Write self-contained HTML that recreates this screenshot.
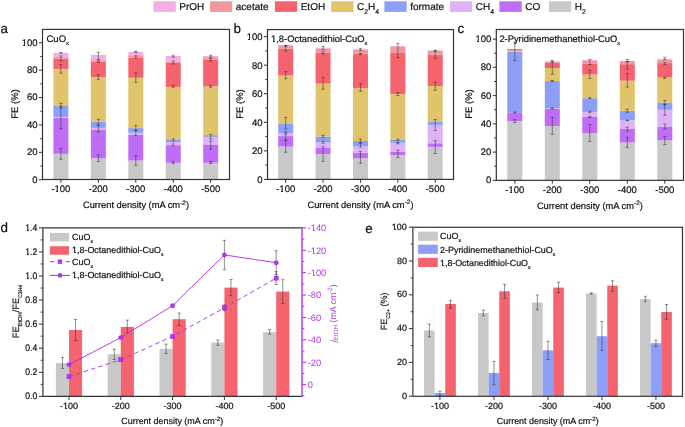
<!DOCTYPE html><html><head><meta charset="utf-8"><style>html,body{margin:0;padding:0;background:#fff;overflow:hidden}svg{display:block;will-change:transform;text-rendering:geometricPrecision}</style></head><body><svg width="685" height="427" viewBox="0 0 685 427" font-family='"Liberation Sans", sans-serif'>
<rect width="685" height="427" fill="#fff"/>
<rect x="153.50" y="1.30" width="22.30" height="10.60" fill="#f4ade2"/>
<text x="179.30" y="10.30" font-size="10" text-anchor="start" fill="#111" stroke="#111" stroke-width="0.2" >PrOH</text>
<rect x="210.00" y="1.30" width="22.30" height="10.60" fill="#f1979f"/>
<text x="235.80" y="10.30" font-size="10" text-anchor="start" fill="#111" stroke="#111" stroke-width="0.2" >acetate</text>
<rect x="274.90" y="1.30" width="22.30" height="10.60" fill="#f4636e"/>
<text x="300.70" y="10.30" font-size="10" text-anchor="start" fill="#111" stroke="#111" stroke-width="0.2" >EtOH</text>
<rect x="331.10" y="1.30" width="22.30" height="10.60" fill="#e0c46c"/>
<text x="356.90" y="10.30" font-size="10" text-anchor="start" fill="#111" stroke="#111" stroke-width="0.2" >C<tspan font-size="6.8" dy="3.2">2</tspan><tspan dy="-3.2">H</tspan><tspan font-size="6.8" dy="3.2">4</tspan></text>
<rect x="384.40" y="1.30" width="22.30" height="10.60" fill="#8c9ef7"/>
<text x="410.20" y="10.30" font-size="10" text-anchor="start" fill="#111" stroke="#111" stroke-width="0.2" >formate</text>
<rect x="450.00" y="1.30" width="22.30" height="10.60" fill="#ddb2f6"/>
<text x="475.80" y="10.30" font-size="10" text-anchor="start" fill="#111" stroke="#111" stroke-width="0.2" >CH<tspan font-size="6.8" dy="3.2">4</tspan></text>
<rect x="499.40" y="1.30" width="22.30" height="10.60" fill="#bf6cf7"/>
<text x="525.20" y="10.30" font-size="10" text-anchor="start" fill="#111" stroke="#111" stroke-width="0.2" >CO</text>
<rect x="549.00" y="1.30" width="22.30" height="10.60" fill="#c8c8c8"/>
<text x="574.80" y="10.30" font-size="10" text-anchor="start" fill="#111" stroke="#111" stroke-width="0.2" >H<tspan font-size="6.8" dy="3.2">2</tspan></text>
<rect x="53.40" y="153.80" width="15.00" height="25.70" fill="#c8c8c8"/>
<rect x="53.40" y="117.70" width="15.00" height="36.10" fill="#bf6cf7"/>
<rect x="53.40" y="116.90" width="15.00" height="0.80" fill="#ddb2f6"/>
<rect x="53.40" y="106.00" width="15.00" height="10.90" fill="#8c9ef7"/>
<rect x="53.40" y="68.90" width="15.00" height="37.10" fill="#e0c46c"/>
<rect x="53.40" y="58.70" width="15.00" height="10.20" fill="#f4636e"/>
<rect x="53.40" y="56.90" width="15.00" height="1.80" fill="#f1979f"/>
<rect x="53.40" y="52.90" width="15.00" height="4.00" fill="#f4ade2"/>
<rect x="90.85" y="158.20" width="15.00" height="21.30" fill="#c8c8c8"/>
<rect x="90.85" y="129.50" width="15.00" height="28.70" fill="#bf6cf7"/>
<rect x="90.85" y="127.90" width="15.00" height="1.60" fill="#ddb2f6"/>
<rect x="90.85" y="121.80" width="15.00" height="6.10" fill="#8c9ef7"/>
<rect x="90.85" y="77.00" width="15.00" height="44.80" fill="#e0c46c"/>
<rect x="90.85" y="61.40" width="15.00" height="15.60" fill="#f4636e"/>
<rect x="90.85" y="60.20" width="15.00" height="1.20" fill="#f1979f"/>
<rect x="90.85" y="54.90" width="15.00" height="5.30" fill="#f4ade2"/>
<rect x="128.30" y="160.50" width="15.00" height="19.00" fill="#c8c8c8"/>
<rect x="128.30" y="134.70" width="15.00" height="25.80" fill="#bf6cf7"/>
<rect x="128.30" y="132.80" width="15.00" height="1.90" fill="#ddb2f6"/>
<rect x="128.30" y="128.10" width="15.00" height="4.70" fill="#8c9ef7"/>
<rect x="128.30" y="77.70" width="15.00" height="50.40" fill="#e0c46c"/>
<rect x="128.30" y="57.50" width="15.00" height="20.20" fill="#f4636e"/>
<rect x="128.30" y="56.00" width="15.00" height="1.50" fill="#f1979f"/>
<rect x="128.30" y="51.90" width="15.00" height="4.10" fill="#f4ade2"/>
<rect x="165.75" y="162.80" width="15.00" height="16.70" fill="#c8c8c8"/>
<rect x="165.75" y="145.20" width="15.00" height="17.60" fill="#bf6cf7"/>
<rect x="165.75" y="142.00" width="15.00" height="3.20" fill="#ddb2f6"/>
<rect x="165.75" y="139.30" width="15.00" height="2.70" fill="#8c9ef7"/>
<rect x="165.75" y="86.90" width="15.00" height="52.40" fill="#e0c46c"/>
<rect x="165.75" y="63.00" width="15.00" height="23.90" fill="#f4636e"/>
<rect x="165.75" y="61.40" width="15.00" height="1.60" fill="#f1979f"/>
<rect x="165.75" y="56.00" width="15.00" height="5.40" fill="#f4ade2"/>
<rect x="203.20" y="162.80" width="15.00" height="16.70" fill="#c8c8c8"/>
<rect x="203.20" y="145.00" width="15.00" height="17.80" fill="#bf6cf7"/>
<rect x="203.20" y="136.90" width="15.00" height="8.10" fill="#ddb2f6"/>
<rect x="203.20" y="135.10" width="15.00" height="1.80" fill="#8c9ef7"/>
<rect x="203.20" y="86.40" width="15.00" height="48.70" fill="#e0c46c"/>
<rect x="203.20" y="59.90" width="15.00" height="26.50" fill="#f4636e"/>
<rect x="203.20" y="57.20" width="15.00" height="2.70" fill="#f1979f"/>
<rect x="203.20" y="56.00" width="15.00" height="1.20" fill="#f4ade2"/>
<line x1="60.90" y1="52.30" x2="60.90" y2="53.20" stroke="#333" stroke-width="0.55" />
<line x1="59.30" y1="52.30" x2="62.50" y2="52.30" stroke="#333" stroke-width="0.55" />
<line x1="59.30" y1="53.20" x2="62.50" y2="53.20" stroke="#333" stroke-width="0.55" />
<line x1="60.90" y1="56.00" x2="60.90" y2="61.00" stroke="#333" stroke-width="0.55" />
<line x1="59.30" y1="56.00" x2="62.50" y2="56.00" stroke="#333" stroke-width="0.55" />
<line x1="59.30" y1="61.00" x2="62.50" y2="61.00" stroke="#333" stroke-width="0.55" />
<line x1="60.90" y1="64.50" x2="60.90" y2="73.20" stroke="#333" stroke-width="0.55" />
<line x1="59.30" y1="64.50" x2="62.50" y2="64.50" stroke="#333" stroke-width="0.55" />
<line x1="59.30" y1="73.20" x2="62.50" y2="73.20" stroke="#333" stroke-width="0.55" />
<line x1="60.90" y1="103.30" x2="60.90" y2="108.20" stroke="#333" stroke-width="0.55" />
<line x1="59.30" y1="103.30" x2="62.50" y2="103.30" stroke="#333" stroke-width="0.55" />
<line x1="59.30" y1="108.20" x2="62.50" y2="108.20" stroke="#333" stroke-width="0.55" />
<line x1="60.90" y1="106.20" x2="60.90" y2="128.70" stroke="#333" stroke-width="0.55" />
<line x1="59.30" y1="106.20" x2="62.50" y2="106.20" stroke="#333" stroke-width="0.55" />
<line x1="59.30" y1="128.70" x2="62.50" y2="128.70" stroke="#333" stroke-width="0.55" />
<line x1="60.90" y1="148.40" x2="60.90" y2="159.30" stroke="#333" stroke-width="0.55" />
<line x1="59.30" y1="148.40" x2="62.50" y2="148.40" stroke="#333" stroke-width="0.55" />
<line x1="59.30" y1="159.30" x2="62.50" y2="159.30" stroke="#333" stroke-width="0.55" />
<line x1="98.35" y1="52.30" x2="98.35" y2="59.50" stroke="#333" stroke-width="0.55" />
<line x1="96.75" y1="52.30" x2="99.95" y2="52.30" stroke="#333" stroke-width="0.55" />
<line x1="96.75" y1="59.50" x2="99.95" y2="59.50" stroke="#333" stroke-width="0.55" />
<line x1="98.35" y1="60.80" x2="98.35" y2="62.30" stroke="#333" stroke-width="0.55" />
<line x1="96.75" y1="60.80" x2="99.95" y2="60.80" stroke="#333" stroke-width="0.55" />
<line x1="96.75" y1="62.30" x2="99.95" y2="62.30" stroke="#333" stroke-width="0.55" />
<line x1="98.35" y1="74.70" x2="98.35" y2="79.30" stroke="#333" stroke-width="0.55" />
<line x1="96.75" y1="74.70" x2="99.95" y2="74.70" stroke="#333" stroke-width="0.55" />
<line x1="96.75" y1="79.30" x2="99.95" y2="79.30" stroke="#333" stroke-width="0.55" />
<line x1="98.35" y1="119.30" x2="98.35" y2="124.30" stroke="#333" stroke-width="0.55" />
<line x1="96.75" y1="119.30" x2="99.95" y2="119.30" stroke="#333" stroke-width="0.55" />
<line x1="96.75" y1="124.30" x2="99.95" y2="124.30" stroke="#333" stroke-width="0.55" />
<line x1="98.35" y1="125.50" x2="98.35" y2="132.00" stroke="#333" stroke-width="0.55" />
<line x1="96.75" y1="125.50" x2="99.95" y2="125.50" stroke="#333" stroke-width="0.55" />
<line x1="96.75" y1="132.00" x2="99.95" y2="132.00" stroke="#333" stroke-width="0.55" />
<line x1="98.35" y1="154.90" x2="98.35" y2="161.50" stroke="#333" stroke-width="0.55" />
<line x1="96.75" y1="154.90" x2="99.95" y2="154.90" stroke="#333" stroke-width="0.55" />
<line x1="96.75" y1="161.50" x2="99.95" y2="161.50" stroke="#333" stroke-width="0.55" />
<line x1="135.80" y1="51.10" x2="135.80" y2="52.50" stroke="#333" stroke-width="0.55" />
<line x1="134.20" y1="51.10" x2="137.40" y2="51.10" stroke="#333" stroke-width="0.55" />
<line x1="134.20" y1="52.50" x2="137.40" y2="52.50" stroke="#333" stroke-width="0.55" />
<line x1="135.80" y1="55.70" x2="135.80" y2="57.90" stroke="#333" stroke-width="0.55" />
<line x1="134.20" y1="55.70" x2="137.40" y2="55.70" stroke="#333" stroke-width="0.55" />
<line x1="134.20" y1="57.90" x2="137.40" y2="57.90" stroke="#333" stroke-width="0.55" />
<line x1="135.80" y1="72.70" x2="135.80" y2="82.30" stroke="#333" stroke-width="0.55" />
<line x1="134.20" y1="72.70" x2="137.40" y2="72.70" stroke="#333" stroke-width="0.55" />
<line x1="134.20" y1="82.30" x2="137.40" y2="82.30" stroke="#333" stroke-width="0.55" />
<line x1="135.80" y1="125.50" x2="135.80" y2="130.30" stroke="#333" stroke-width="0.55" />
<line x1="134.20" y1="125.50" x2="137.40" y2="125.50" stroke="#333" stroke-width="0.55" />
<line x1="134.20" y1="130.30" x2="137.40" y2="130.30" stroke="#333" stroke-width="0.55" />
<line x1="135.80" y1="130.50" x2="135.80" y2="135.40" stroke="#333" stroke-width="0.55" />
<line x1="134.20" y1="130.50" x2="137.40" y2="130.50" stroke="#333" stroke-width="0.55" />
<line x1="134.20" y1="135.40" x2="137.40" y2="135.40" stroke="#333" stroke-width="0.55" />
<line x1="135.80" y1="155.60" x2="135.80" y2="165.40" stroke="#333" stroke-width="0.55" />
<line x1="134.20" y1="155.60" x2="137.40" y2="155.60" stroke="#333" stroke-width="0.55" />
<line x1="134.20" y1="165.40" x2="137.40" y2="165.40" stroke="#333" stroke-width="0.55" />
<line x1="173.25" y1="55.70" x2="173.25" y2="57.20" stroke="#333" stroke-width="0.55" />
<line x1="171.65" y1="55.70" x2="174.85" y2="55.70" stroke="#333" stroke-width="0.55" />
<line x1="171.65" y1="57.20" x2="174.85" y2="57.20" stroke="#333" stroke-width="0.55" />
<line x1="173.25" y1="61.00" x2="173.25" y2="64.00" stroke="#333" stroke-width="0.55" />
<line x1="171.65" y1="61.00" x2="174.85" y2="61.00" stroke="#333" stroke-width="0.55" />
<line x1="171.65" y1="64.00" x2="174.85" y2="64.00" stroke="#333" stroke-width="0.55" />
<line x1="173.25" y1="85.40" x2="173.25" y2="87.30" stroke="#333" stroke-width="0.55" />
<line x1="171.65" y1="85.40" x2="174.85" y2="85.40" stroke="#333" stroke-width="0.55" />
<line x1="171.65" y1="87.30" x2="174.85" y2="87.30" stroke="#333" stroke-width="0.55" />
<line x1="173.25" y1="139.10" x2="173.25" y2="145.70" stroke="#333" stroke-width="0.55" />
<line x1="171.65" y1="139.10" x2="174.85" y2="139.10" stroke="#333" stroke-width="0.55" />
<line x1="171.65" y1="145.70" x2="174.85" y2="145.70" stroke="#333" stroke-width="0.55" />
<line x1="173.25" y1="161.70" x2="173.25" y2="163.60" stroke="#333" stroke-width="0.55" />
<line x1="171.65" y1="161.70" x2="174.85" y2="161.70" stroke="#333" stroke-width="0.55" />
<line x1="171.65" y1="163.60" x2="174.85" y2="163.60" stroke="#333" stroke-width="0.55" />
<line x1="210.70" y1="55.40" x2="210.70" y2="57.20" stroke="#333" stroke-width="0.55" />
<line x1="209.10" y1="55.40" x2="212.30" y2="55.40" stroke="#333" stroke-width="0.55" />
<line x1="209.10" y1="57.20" x2="212.30" y2="57.20" stroke="#333" stroke-width="0.55" />
<line x1="210.70" y1="58.40" x2="210.70" y2="61.00" stroke="#333" stroke-width="0.55" />
<line x1="209.10" y1="58.40" x2="212.30" y2="58.40" stroke="#333" stroke-width="0.55" />
<line x1="209.10" y1="61.00" x2="212.30" y2="61.00" stroke="#333" stroke-width="0.55" />
<line x1="210.70" y1="85.40" x2="210.70" y2="87.30" stroke="#333" stroke-width="0.55" />
<line x1="209.10" y1="85.40" x2="212.30" y2="85.40" stroke="#333" stroke-width="0.55" />
<line x1="209.10" y1="87.30" x2="212.30" y2="87.30" stroke="#333" stroke-width="0.55" />
<line x1="210.70" y1="134.30" x2="210.70" y2="139.10" stroke="#333" stroke-width="0.55" />
<line x1="209.10" y1="134.30" x2="212.30" y2="134.30" stroke="#333" stroke-width="0.55" />
<line x1="209.10" y1="139.10" x2="212.30" y2="139.10" stroke="#333" stroke-width="0.55" />
<line x1="210.70" y1="141.30" x2="210.70" y2="149.30" stroke="#333" stroke-width="0.55" />
<line x1="209.10" y1="141.30" x2="212.30" y2="141.30" stroke="#333" stroke-width="0.55" />
<line x1="209.10" y1="149.30" x2="212.30" y2="149.30" stroke="#333" stroke-width="0.55" />
<line x1="210.70" y1="161.40" x2="210.70" y2="163.50" stroke="#333" stroke-width="0.55" />
<line x1="209.10" y1="161.40" x2="212.30" y2="161.40" stroke="#333" stroke-width="0.55" />
<line x1="209.10" y1="163.50" x2="212.30" y2="163.50" stroke="#333" stroke-width="0.55" />
<rect x="42.50" y="29.40" width="187.00" height="150.10" fill="none" stroke="#333333" stroke-width="1.2"/>
<line x1="42.50" y1="179.75" x2="39.00" y2="179.75" stroke="#333333" stroke-width="1.0" />
<text x="37.50" y="182.65" font-size="9.5" text-anchor="end" fill="#111" stroke="#111" stroke-width="0.2" >0</text>
<line x1="42.50" y1="152.35" x2="39.00" y2="152.35" stroke="#333333" stroke-width="1.0" />
<text x="37.50" y="155.25" font-size="9.5" text-anchor="end" fill="#111" stroke="#111" stroke-width="0.2" >20</text>
<line x1="42.50" y1="124.95" x2="39.00" y2="124.95" stroke="#333333" stroke-width="1.0" />
<text x="37.50" y="127.85" font-size="9.5" text-anchor="end" fill="#111" stroke="#111" stroke-width="0.2" >40</text>
<line x1="42.50" y1="97.55" x2="39.00" y2="97.55" stroke="#333333" stroke-width="1.0" />
<text x="37.50" y="100.45" font-size="9.5" text-anchor="end" fill="#111" stroke="#111" stroke-width="0.2" >60</text>
<line x1="42.50" y1="70.15" x2="39.00" y2="70.15" stroke="#333333" stroke-width="1.0" />
<text x="37.50" y="73.05" font-size="9.5" text-anchor="end" fill="#111" stroke="#111" stroke-width="0.2" >80</text>
<line x1="42.50" y1="42.75" x2="39.00" y2="42.75" stroke="#333333" stroke-width="1.0" />
<text x="37.50" y="45.65" font-size="9.5" text-anchor="end" fill="#111" stroke="#111" stroke-width="0.2" >100</text>
<line x1="42.50" y1="166.05" x2="40.30" y2="166.05" stroke="#333333" stroke-width="1.0" />
<line x1="42.50" y1="138.65" x2="40.30" y2="138.65" stroke="#333333" stroke-width="1.0" />
<line x1="42.50" y1="111.25" x2="40.30" y2="111.25" stroke="#333333" stroke-width="1.0" />
<line x1="42.50" y1="83.85" x2="40.30" y2="83.85" stroke="#333333" stroke-width="1.0" />
<line x1="42.50" y1="56.45" x2="40.30" y2="56.45" stroke="#333333" stroke-width="1.0" />
<line x1="60.90" y1="179.50" x2="60.90" y2="182.80" stroke="#333333" stroke-width="1.0" />
<text x="60.90" y="192.10" font-size="9.5" text-anchor="middle" fill="#111" stroke="#111" stroke-width="0.2" >-100</text>
<line x1="98.35" y1="179.50" x2="98.35" y2="182.80" stroke="#333333" stroke-width="1.0" />
<text x="98.35" y="192.10" font-size="9.5" text-anchor="middle" fill="#111" stroke="#111" stroke-width="0.2" >-200</text>
<line x1="135.80" y1="179.50" x2="135.80" y2="182.80" stroke="#333333" stroke-width="1.0" />
<text x="135.80" y="192.10" font-size="9.5" text-anchor="middle" fill="#111" stroke="#111" stroke-width="0.2" >-300</text>
<line x1="173.25" y1="179.50" x2="173.25" y2="182.80" stroke="#333333" stroke-width="1.0" />
<text x="173.25" y="192.10" font-size="9.5" text-anchor="middle" fill="#111" stroke="#111" stroke-width="0.2" >-400</text>
<line x1="210.70" y1="179.50" x2="210.70" y2="182.80" stroke="#333333" stroke-width="1.0" />
<text x="210.70" y="192.10" font-size="9.5" text-anchor="middle" fill="#111" stroke="#111" stroke-width="0.2" >-500</text>
<text x="136.00" y="208.00" font-size="9.3" text-anchor="middle" fill="#111" stroke="#111" stroke-width="0.2" >Current density (mA cm<tspan font-size="6.5" dy="-3.5">-2</tspan><tspan dy="3.5">)</tspan></text>
<text x="18.30" y="104.00" font-size="9.5" text-anchor="middle" fill="#111" stroke="#111" stroke-width="0.2" transform="rotate(-90 18.30 104.00)">FE (%)</text>
<text x="46.50" y="42.00" font-size="9.5" text-anchor="start" fill="#111" stroke="#111" stroke-width="0.2" >CuO<tspan font-size="5.7" dy="2.9">x</tspan></text>
<text x="0.50" y="32.80" font-size="13.4" text-anchor="start" fill="#111" stroke="#111" stroke-width="0.2" >a</text>
<rect x="278.20" y="146.60" width="15.00" height="32.80" fill="#c8c8c8"/>
<rect x="278.20" y="136.10" width="15.00" height="10.50" fill="#bf6cf7"/>
<rect x="278.20" y="133.00" width="15.00" height="3.10" fill="#ddb2f6"/>
<rect x="278.20" y="123.40" width="15.00" height="9.60" fill="#8c9ef7"/>
<rect x="278.20" y="75.40" width="15.00" height="48.00" fill="#e0c46c"/>
<rect x="278.20" y="48.70" width="15.00" height="26.70" fill="#f4636e"/>
<rect x="278.20" y="45.20" width="15.00" height="3.50" fill="#f1979f"/>
<rect x="315.58" y="154.10" width="15.00" height="25.30" fill="#c8c8c8"/>
<rect x="315.58" y="148.00" width="15.00" height="6.10" fill="#bf6cf7"/>
<rect x="315.58" y="142.20" width="15.00" height="5.80" fill="#ddb2f6"/>
<rect x="315.58" y="136.50" width="15.00" height="5.70" fill="#8c9ef7"/>
<rect x="315.58" y="83.60" width="15.00" height="52.90" fill="#e0c46c"/>
<rect x="315.58" y="52.90" width="15.00" height="30.70" fill="#f4636e"/>
<rect x="315.58" y="48.40" width="15.00" height="4.50" fill="#f1979f"/>
<rect x="315.58" y="47.70" width="15.00" height="0.70" fill="#f4ade2"/>
<rect x="352.96" y="158.20" width="15.00" height="21.20" fill="#c8c8c8"/>
<rect x="352.96" y="152.80" width="15.00" height="5.40" fill="#bf6cf7"/>
<rect x="352.96" y="146.10" width="15.00" height="6.70" fill="#ddb2f6"/>
<rect x="352.96" y="141.00" width="15.00" height="5.10" fill="#8c9ef7"/>
<rect x="352.96" y="88.10" width="15.00" height="52.90" fill="#e0c46c"/>
<rect x="352.96" y="54.10" width="15.00" height="34.00" fill="#f4636e"/>
<rect x="352.96" y="49.80" width="15.00" height="4.30" fill="#f1979f"/>
<rect x="352.96" y="49.10" width="15.00" height="0.70" fill="#f4ade2"/>
<rect x="390.34" y="155.00" width="15.00" height="24.40" fill="#c8c8c8"/>
<rect x="390.34" y="151.90" width="15.00" height="3.10" fill="#bf6cf7"/>
<rect x="390.34" y="142.80" width="15.00" height="9.10" fill="#ddb2f6"/>
<rect x="390.34" y="139.90" width="15.00" height="2.90" fill="#8c9ef7"/>
<rect x="390.34" y="94.10" width="15.00" height="45.80" fill="#e0c46c"/>
<rect x="390.34" y="52.90" width="15.00" height="41.20" fill="#f4636e"/>
<rect x="390.34" y="46.30" width="15.00" height="6.60" fill="#f1979f"/>
<rect x="427.72" y="146.80" width="15.00" height="32.60" fill="#c8c8c8"/>
<rect x="427.72" y="143.30" width="15.00" height="3.50" fill="#bf6cf7"/>
<rect x="427.72" y="124.90" width="15.00" height="18.40" fill="#ddb2f6"/>
<rect x="427.72" y="122.00" width="15.00" height="2.90" fill="#8c9ef7"/>
<rect x="427.72" y="86.00" width="15.00" height="36.00" fill="#e0c46c"/>
<rect x="427.72" y="54.70" width="15.00" height="31.30" fill="#f4636e"/>
<rect x="427.72" y="50.50" width="15.00" height="4.20" fill="#f1979f"/>
<line x1="285.70" y1="45.20" x2="285.70" y2="46.00" stroke="#333" stroke-width="0.55" />
<line x1="284.10" y1="45.20" x2="287.30" y2="45.20" stroke="#333" stroke-width="0.55" />
<line x1="284.10" y1="46.00" x2="287.30" y2="46.00" stroke="#333" stroke-width="0.55" />
<line x1="285.70" y1="46.30" x2="285.70" y2="51.20" stroke="#333" stroke-width="0.55" />
<line x1="284.10" y1="46.30" x2="287.30" y2="46.30" stroke="#333" stroke-width="0.55" />
<line x1="284.10" y1="51.20" x2="287.30" y2="51.20" stroke="#333" stroke-width="0.55" />
<line x1="285.70" y1="71.60" x2="285.70" y2="78.70" stroke="#333" stroke-width="0.55" />
<line x1="284.10" y1="71.60" x2="287.30" y2="71.60" stroke="#333" stroke-width="0.55" />
<line x1="284.10" y1="78.70" x2="287.30" y2="78.70" stroke="#333" stroke-width="0.55" />
<line x1="285.70" y1="117.30" x2="285.70" y2="129.00" stroke="#333" stroke-width="0.55" />
<line x1="284.10" y1="117.30" x2="287.30" y2="117.30" stroke="#333" stroke-width="0.55" />
<line x1="284.10" y1="129.00" x2="287.30" y2="129.00" stroke="#333" stroke-width="0.55" />
<line x1="285.70" y1="131.90" x2="285.70" y2="133.10" stroke="#333" stroke-width="0.55" />
<line x1="284.10" y1="131.90" x2="287.30" y2="131.90" stroke="#333" stroke-width="0.55" />
<line x1="284.10" y1="133.10" x2="287.30" y2="133.10" stroke="#333" stroke-width="0.55" />
<line x1="285.70" y1="134.60" x2="285.70" y2="140.20" stroke="#333" stroke-width="0.55" />
<line x1="284.10" y1="134.60" x2="287.30" y2="134.60" stroke="#333" stroke-width="0.55" />
<line x1="284.10" y1="140.20" x2="287.30" y2="140.20" stroke="#333" stroke-width="0.55" />
<line x1="285.70" y1="140.20" x2="285.70" y2="152.20" stroke="#333" stroke-width="0.55" />
<line x1="284.10" y1="140.20" x2="287.30" y2="140.20" stroke="#333" stroke-width="0.55" />
<line x1="284.10" y1="152.20" x2="287.30" y2="152.20" stroke="#333" stroke-width="0.55" />
<line x1="323.08" y1="46.30" x2="323.08" y2="49.80" stroke="#333" stroke-width="0.55" />
<line x1="321.48" y1="46.30" x2="324.68" y2="46.30" stroke="#333" stroke-width="0.55" />
<line x1="321.48" y1="49.80" x2="324.68" y2="49.80" stroke="#333" stroke-width="0.55" />
<line x1="323.08" y1="52.00" x2="323.08" y2="54.00" stroke="#333" stroke-width="0.55" />
<line x1="321.48" y1="52.00" x2="324.68" y2="52.00" stroke="#333" stroke-width="0.55" />
<line x1="321.48" y1="54.00" x2="324.68" y2="54.00" stroke="#333" stroke-width="0.55" />
<line x1="323.08" y1="77.20" x2="323.08" y2="89.20" stroke="#333" stroke-width="0.55" />
<line x1="321.48" y1="77.20" x2="324.68" y2="77.20" stroke="#333" stroke-width="0.55" />
<line x1="321.48" y1="89.20" x2="324.68" y2="89.20" stroke="#333" stroke-width="0.55" />
<line x1="323.08" y1="135.30" x2="323.08" y2="137.50" stroke="#333" stroke-width="0.55" />
<line x1="321.48" y1="135.30" x2="324.68" y2="135.30" stroke="#333" stroke-width="0.55" />
<line x1="321.48" y1="137.50" x2="324.68" y2="137.50" stroke="#333" stroke-width="0.55" />
<line x1="323.08" y1="141.20" x2="323.08" y2="143.20" stroke="#333" stroke-width="0.55" />
<line x1="321.48" y1="141.20" x2="324.68" y2="141.20" stroke="#333" stroke-width="0.55" />
<line x1="321.48" y1="143.20" x2="324.68" y2="143.20" stroke="#333" stroke-width="0.55" />
<line x1="323.08" y1="146.80" x2="323.08" y2="161.30" stroke="#333" stroke-width="0.55" />
<line x1="321.48" y1="146.80" x2="324.68" y2="146.80" stroke="#333" stroke-width="0.55" />
<line x1="321.48" y1="161.30" x2="324.68" y2="161.30" stroke="#333" stroke-width="0.55" />
<line x1="360.46" y1="48.40" x2="360.46" y2="50.50" stroke="#333" stroke-width="0.55" />
<line x1="358.86" y1="48.40" x2="362.06" y2="48.40" stroke="#333" stroke-width="0.55" />
<line x1="358.86" y1="50.50" x2="362.06" y2="50.50" stroke="#333" stroke-width="0.55" />
<line x1="360.46" y1="53.50" x2="360.46" y2="54.50" stroke="#333" stroke-width="0.55" />
<line x1="358.86" y1="53.50" x2="362.06" y2="53.50" stroke="#333" stroke-width="0.55" />
<line x1="358.86" y1="54.50" x2="362.06" y2="54.50" stroke="#333" stroke-width="0.55" />
<line x1="360.46" y1="83.60" x2="360.46" y2="91.30" stroke="#333" stroke-width="0.55" />
<line x1="358.86" y1="83.60" x2="362.06" y2="83.60" stroke="#333" stroke-width="0.55" />
<line x1="358.86" y1="91.30" x2="362.06" y2="91.30" stroke="#333" stroke-width="0.55" />
<line x1="360.46" y1="139.20" x2="360.46" y2="142.60" stroke="#333" stroke-width="0.55" />
<line x1="358.86" y1="139.20" x2="362.06" y2="139.20" stroke="#333" stroke-width="0.55" />
<line x1="358.86" y1="142.60" x2="362.06" y2="142.60" stroke="#333" stroke-width="0.55" />
<line x1="360.46" y1="143.50" x2="360.46" y2="147.20" stroke="#333" stroke-width="0.55" />
<line x1="358.86" y1="143.50" x2="362.06" y2="143.50" stroke="#333" stroke-width="0.55" />
<line x1="358.86" y1="147.20" x2="362.06" y2="147.20" stroke="#333" stroke-width="0.55" />
<line x1="360.46" y1="151.60" x2="360.46" y2="163.30" stroke="#333" stroke-width="0.55" />
<line x1="358.86" y1="151.60" x2="362.06" y2="151.60" stroke="#333" stroke-width="0.55" />
<line x1="358.86" y1="163.30" x2="362.06" y2="163.30" stroke="#333" stroke-width="0.55" />
<line x1="397.84" y1="43.50" x2="397.84" y2="57.60" stroke="#333" stroke-width="0.55" />
<line x1="396.24" y1="43.50" x2="399.44" y2="43.50" stroke="#333" stroke-width="0.55" />
<line x1="396.24" y1="57.60" x2="399.44" y2="57.60" stroke="#333" stroke-width="0.55" />
<line x1="397.84" y1="92.50" x2="397.84" y2="95.50" stroke="#333" stroke-width="0.55" />
<line x1="396.24" y1="92.50" x2="399.44" y2="92.50" stroke="#333" stroke-width="0.55" />
<line x1="396.24" y1="95.50" x2="399.44" y2="95.50" stroke="#333" stroke-width="0.55" />
<line x1="397.84" y1="139.20" x2="397.84" y2="140.60" stroke="#333" stroke-width="0.55" />
<line x1="396.24" y1="139.20" x2="399.44" y2="139.20" stroke="#333" stroke-width="0.55" />
<line x1="396.24" y1="140.60" x2="399.44" y2="140.60" stroke="#333" stroke-width="0.55" />
<line x1="397.84" y1="142.50" x2="397.84" y2="143.80" stroke="#333" stroke-width="0.55" />
<line x1="396.24" y1="142.50" x2="399.44" y2="142.50" stroke="#333" stroke-width="0.55" />
<line x1="396.24" y1="143.80" x2="399.44" y2="143.80" stroke="#333" stroke-width="0.55" />
<line x1="397.84" y1="150.00" x2="397.84" y2="157.40" stroke="#333" stroke-width="0.55" />
<line x1="396.24" y1="150.00" x2="399.44" y2="150.00" stroke="#333" stroke-width="0.55" />
<line x1="396.24" y1="157.40" x2="399.44" y2="157.40" stroke="#333" stroke-width="0.55" />
<line x1="435.22" y1="50.20" x2="435.22" y2="50.80" stroke="#333" stroke-width="0.55" />
<line x1="433.62" y1="50.20" x2="436.82" y2="50.20" stroke="#333" stroke-width="0.55" />
<line x1="433.62" y1="50.80" x2="436.82" y2="50.80" stroke="#333" stroke-width="0.55" />
<line x1="435.22" y1="51.30" x2="435.22" y2="58.20" stroke="#333" stroke-width="0.55" />
<line x1="433.62" y1="51.30" x2="436.82" y2="51.30" stroke="#333" stroke-width="0.55" />
<line x1="433.62" y1="58.20" x2="436.82" y2="58.20" stroke="#333" stroke-width="0.55" />
<line x1="435.22" y1="82.10" x2="435.22" y2="90.20" stroke="#333" stroke-width="0.55" />
<line x1="433.62" y1="82.10" x2="436.82" y2="82.10" stroke="#333" stroke-width="0.55" />
<line x1="433.62" y1="90.20" x2="436.82" y2="90.20" stroke="#333" stroke-width="0.55" />
<line x1="435.22" y1="119.50" x2="435.22" y2="130.40" stroke="#333" stroke-width="0.55" />
<line x1="433.62" y1="119.50" x2="436.82" y2="119.50" stroke="#333" stroke-width="0.55" />
<line x1="433.62" y1="130.40" x2="436.82" y2="130.40" stroke="#333" stroke-width="0.55" />
<line x1="435.22" y1="140.70" x2="435.22" y2="153.50" stroke="#333" stroke-width="0.55" />
<line x1="433.62" y1="140.70" x2="436.82" y2="140.70" stroke="#333" stroke-width="0.55" />
<line x1="433.62" y1="153.50" x2="436.82" y2="153.50" stroke="#333" stroke-width="0.55" />
<rect x="267.50" y="29.60" width="186.00" height="149.80" fill="none" stroke="#333333" stroke-width="1.2"/>
<line x1="267.50" y1="179.40" x2="264.00" y2="179.40" stroke="#333333" stroke-width="1.0" />
<text x="262.50" y="182.80" font-size="9.5" text-anchor="end" fill="#111" stroke="#111" stroke-width="0.2" >0</text>
<line x1="267.50" y1="150.84" x2="264.00" y2="150.84" stroke="#333333" stroke-width="1.0" />
<text x="262.50" y="154.24" font-size="9.5" text-anchor="end" fill="#111" stroke="#111" stroke-width="0.2" >20</text>
<line x1="267.50" y1="122.28" x2="264.00" y2="122.28" stroke="#333333" stroke-width="1.0" />
<text x="262.50" y="125.68" font-size="9.5" text-anchor="end" fill="#111" stroke="#111" stroke-width="0.2" >40</text>
<line x1="267.50" y1="93.72" x2="264.00" y2="93.72" stroke="#333333" stroke-width="1.0" />
<text x="262.50" y="97.12" font-size="9.5" text-anchor="end" fill="#111" stroke="#111" stroke-width="0.2" >60</text>
<line x1="267.50" y1="65.16" x2="264.00" y2="65.16" stroke="#333333" stroke-width="1.0" />
<text x="262.50" y="68.56" font-size="9.5" text-anchor="end" fill="#111" stroke="#111" stroke-width="0.2" >80</text>
<line x1="267.50" y1="36.60" x2="264.00" y2="36.60" stroke="#333333" stroke-width="1.0" />
<text x="262.50" y="40.00" font-size="9.5" text-anchor="end" fill="#111" stroke="#111" stroke-width="0.2" >100</text>
<line x1="267.50" y1="165.12" x2="265.30" y2="165.12" stroke="#333333" stroke-width="1.0" />
<line x1="267.50" y1="136.56" x2="265.30" y2="136.56" stroke="#333333" stroke-width="1.0" />
<line x1="267.50" y1="108.00" x2="265.30" y2="108.00" stroke="#333333" stroke-width="1.0" />
<line x1="267.50" y1="79.44" x2="265.30" y2="79.44" stroke="#333333" stroke-width="1.0" />
<line x1="267.50" y1="50.88" x2="265.30" y2="50.88" stroke="#333333" stroke-width="1.0" />
<line x1="285.70" y1="179.40" x2="285.70" y2="182.70" stroke="#333333" stroke-width="1.0" />
<text x="285.70" y="192.00" font-size="9.5" text-anchor="middle" fill="#111" stroke="#111" stroke-width="0.2" >-100</text>
<line x1="323.08" y1="179.40" x2="323.08" y2="182.70" stroke="#333333" stroke-width="1.0" />
<text x="323.08" y="192.00" font-size="9.5" text-anchor="middle" fill="#111" stroke="#111" stroke-width="0.2" >-200</text>
<line x1="360.46" y1="179.40" x2="360.46" y2="182.70" stroke="#333333" stroke-width="1.0" />
<text x="360.46" y="192.00" font-size="9.5" text-anchor="middle" fill="#111" stroke="#111" stroke-width="0.2" >-300</text>
<line x1="397.84" y1="179.40" x2="397.84" y2="182.70" stroke="#333333" stroke-width="1.0" />
<text x="397.84" y="192.00" font-size="9.5" text-anchor="middle" fill="#111" stroke="#111" stroke-width="0.2" >-400</text>
<line x1="435.22" y1="179.40" x2="435.22" y2="182.70" stroke="#333333" stroke-width="1.0" />
<text x="435.22" y="192.00" font-size="9.5" text-anchor="middle" fill="#111" stroke="#111" stroke-width="0.2" >-500</text>
<text x="360.50" y="207.90" font-size="9.3" text-anchor="middle" fill="#111" stroke="#111" stroke-width="0.2" >Current density (mA cm<tspan font-size="6.5" dy="-3.5">-2</tspan><tspan dy="3.5">)</tspan></text>
<text x="243.30" y="104.00" font-size="9.5" text-anchor="middle" fill="#111" stroke="#111" stroke-width="0.2" transform="rotate(-90 243.30 104.00)">FE (%)</text>
<text x="271.00" y="42.00" font-size="9.42" text-anchor="start" fill="#111" stroke="#111" stroke-width="0.2" >1,8-Octanedithiol-CuO<tspan font-size="5.7" dy="2.9">x</tspan></text>
<text x="233.50" y="33.20" font-size="13.4" text-anchor="start" fill="#111" stroke="#111" stroke-width="0.2" >b</text>
<rect x="507.30" y="121.20" width="15.00" height="59.15" fill="#c8c8c8"/>
<rect x="507.30" y="112.30" width="15.00" height="8.90" fill="#bf6cf7"/>
<rect x="507.30" y="51.60" width="15.00" height="60.70" fill="#8c9ef7"/>
<rect x="507.30" y="50.50" width="15.00" height="1.10" fill="#e0c46c"/>
<rect x="507.30" y="49.10" width="15.00" height="1.40" fill="#f4636e"/>
<rect x="544.80" y="126.00" width="15.00" height="54.35" fill="#c8c8c8"/>
<rect x="544.80" y="108.60" width="15.00" height="17.40" fill="#bf6cf7"/>
<rect x="544.80" y="108.10" width="15.00" height="0.50" fill="#ddb2f6"/>
<rect x="544.80" y="81.10" width="15.00" height="27.00" fill="#8c9ef7"/>
<rect x="544.80" y="68.00" width="15.00" height="13.10" fill="#e0c46c"/>
<rect x="544.80" y="62.60" width="15.00" height="5.40" fill="#f4636e"/>
<rect x="544.80" y="61.50" width="15.00" height="1.10" fill="#f1979f"/>
<rect x="544.80" y="61.30" width="15.00" height="0.20" fill="#f4ade2"/>
<rect x="582.30" y="133.10" width="15.00" height="47.25" fill="#c8c8c8"/>
<rect x="582.30" y="117.00" width="15.00" height="16.10" fill="#bf6cf7"/>
<rect x="582.30" y="111.90" width="15.00" height="5.10" fill="#ddb2f6"/>
<rect x="582.30" y="98.20" width="15.00" height="13.70" fill="#8c9ef7"/>
<rect x="582.30" y="74.50" width="15.00" height="23.70" fill="#e0c46c"/>
<rect x="582.30" y="63.40" width="15.00" height="11.10" fill="#f4636e"/>
<rect x="582.30" y="61.00" width="15.00" height="2.40" fill="#f1979f"/>
<rect x="582.30" y="59.90" width="15.00" height="1.10" fill="#f4ade2"/>
<rect x="619.80" y="142.50" width="15.00" height="37.85" fill="#c8c8c8"/>
<rect x="619.80" y="129.00" width="15.00" height="13.50" fill="#bf6cf7"/>
<rect x="619.80" y="120.40" width="15.00" height="8.60" fill="#ddb2f6"/>
<rect x="619.80" y="110.80" width="15.00" height="9.60" fill="#8c9ef7"/>
<rect x="619.80" y="80.70" width="15.00" height="30.10" fill="#e0c46c"/>
<rect x="619.80" y="64.20" width="15.00" height="16.50" fill="#f4636e"/>
<rect x="619.80" y="61.00" width="15.00" height="3.20" fill="#f1979f"/>
<rect x="657.30" y="140.30" width="15.00" height="40.05" fill="#c8c8c8"/>
<rect x="657.30" y="127.00" width="15.00" height="13.30" fill="#bf6cf7"/>
<rect x="657.30" y="109.80" width="15.00" height="17.20" fill="#ddb2f6"/>
<rect x="657.30" y="102.50" width="15.00" height="7.30" fill="#8c9ef7"/>
<rect x="657.30" y="77.40" width="15.00" height="25.10" fill="#e0c46c"/>
<rect x="657.30" y="63.10" width="15.00" height="14.30" fill="#f4636e"/>
<rect x="657.30" y="59.60" width="15.00" height="3.50" fill="#f1979f"/>
<rect x="657.30" y="58.80" width="15.00" height="0.80" fill="#f4ade2"/>
<line x1="514.80" y1="42.10" x2="514.80" y2="60.50" stroke="#333" stroke-width="0.55" />
<line x1="513.20" y1="42.10" x2="516.40" y2="42.10" stroke="#333" stroke-width="0.55" />
<line x1="513.20" y1="60.50" x2="516.40" y2="60.50" stroke="#333" stroke-width="0.55" />
<line x1="514.80" y1="112.00" x2="514.80" y2="112.80" stroke="#333" stroke-width="0.55" />
<line x1="513.20" y1="112.00" x2="516.40" y2="112.00" stroke="#333" stroke-width="0.55" />
<line x1="513.20" y1="112.80" x2="516.40" y2="112.80" stroke="#333" stroke-width="0.55" />
<line x1="514.80" y1="119.70" x2="514.80" y2="122.50" stroke="#333" stroke-width="0.55" />
<line x1="513.20" y1="119.70" x2="516.40" y2="119.70" stroke="#333" stroke-width="0.55" />
<line x1="513.20" y1="122.50" x2="516.40" y2="122.50" stroke="#333" stroke-width="0.55" />
<line x1="552.30" y1="60.50" x2="552.30" y2="62.10" stroke="#333" stroke-width="0.55" />
<line x1="550.70" y1="60.50" x2="553.90" y2="60.50" stroke="#333" stroke-width="0.55" />
<line x1="550.70" y1="62.10" x2="553.90" y2="62.10" stroke="#333" stroke-width="0.55" />
<line x1="552.30" y1="62.10" x2="552.30" y2="74.20" stroke="#333" stroke-width="0.55" />
<line x1="550.70" y1="62.10" x2="553.90" y2="62.10" stroke="#333" stroke-width="0.55" />
<line x1="550.70" y1="74.20" x2="553.90" y2="74.20" stroke="#333" stroke-width="0.55" />
<line x1="552.30" y1="80.50" x2="552.30" y2="81.60" stroke="#333" stroke-width="0.55" />
<line x1="550.70" y1="80.50" x2="553.90" y2="80.50" stroke="#333" stroke-width="0.55" />
<line x1="550.70" y1="81.60" x2="553.90" y2="81.60" stroke="#333" stroke-width="0.55" />
<line x1="552.30" y1="108.00" x2="552.30" y2="108.80" stroke="#333" stroke-width="0.55" />
<line x1="550.70" y1="108.00" x2="553.90" y2="108.00" stroke="#333" stroke-width="0.55" />
<line x1="550.70" y1="108.80" x2="553.90" y2="108.80" stroke="#333" stroke-width="0.55" />
<line x1="552.30" y1="117.40" x2="552.30" y2="134.30" stroke="#333" stroke-width="0.55" />
<line x1="550.70" y1="117.40" x2="553.90" y2="117.40" stroke="#333" stroke-width="0.55" />
<line x1="550.70" y1="134.30" x2="553.90" y2="134.30" stroke="#333" stroke-width="0.55" />
<line x1="589.80" y1="59.50" x2="589.80" y2="64.60" stroke="#333" stroke-width="0.55" />
<line x1="588.20" y1="59.50" x2="591.40" y2="59.50" stroke="#333" stroke-width="0.55" />
<line x1="588.20" y1="64.60" x2="591.40" y2="64.60" stroke="#333" stroke-width="0.55" />
<line x1="589.80" y1="70.10" x2="589.80" y2="78.50" stroke="#333" stroke-width="0.55" />
<line x1="588.20" y1="70.10" x2="591.40" y2="70.10" stroke="#333" stroke-width="0.55" />
<line x1="588.20" y1="78.50" x2="591.40" y2="78.50" stroke="#333" stroke-width="0.55" />
<line x1="589.80" y1="97.80" x2="589.80" y2="98.60" stroke="#333" stroke-width="0.55" />
<line x1="588.20" y1="97.80" x2="591.40" y2="97.80" stroke="#333" stroke-width="0.55" />
<line x1="588.20" y1="98.60" x2="591.40" y2="98.60" stroke="#333" stroke-width="0.55" />
<line x1="589.80" y1="111.20" x2="589.80" y2="112.70" stroke="#333" stroke-width="0.55" />
<line x1="588.20" y1="111.20" x2="591.40" y2="111.20" stroke="#333" stroke-width="0.55" />
<line x1="588.20" y1="112.70" x2="591.40" y2="112.70" stroke="#333" stroke-width="0.55" />
<line x1="589.80" y1="116.30" x2="589.80" y2="117.80" stroke="#333" stroke-width="0.55" />
<line x1="588.20" y1="116.30" x2="591.40" y2="116.30" stroke="#333" stroke-width="0.55" />
<line x1="588.20" y1="117.80" x2="591.40" y2="117.80" stroke="#333" stroke-width="0.55" />
<line x1="589.80" y1="124.50" x2="589.80" y2="141.50" stroke="#333" stroke-width="0.55" />
<line x1="588.20" y1="124.50" x2="591.40" y2="124.50" stroke="#333" stroke-width="0.55" />
<line x1="588.20" y1="141.50" x2="591.40" y2="141.50" stroke="#333" stroke-width="0.55" />
<line x1="627.30" y1="59.50" x2="627.30" y2="61.70" stroke="#333" stroke-width="0.55" />
<line x1="625.70" y1="59.50" x2="628.90" y2="59.50" stroke="#333" stroke-width="0.55" />
<line x1="625.70" y1="61.70" x2="628.90" y2="61.70" stroke="#333" stroke-width="0.55" />
<line x1="627.30" y1="61.70" x2="627.30" y2="69.00" stroke="#333" stroke-width="0.55" />
<line x1="625.70" y1="61.70" x2="628.90" y2="61.70" stroke="#333" stroke-width="0.55" />
<line x1="625.70" y1="69.00" x2="628.90" y2="69.00" stroke="#333" stroke-width="0.55" />
<line x1="627.30" y1="73.40" x2="627.30" y2="87.20" stroke="#333" stroke-width="0.55" />
<line x1="625.70" y1="73.40" x2="628.90" y2="73.40" stroke="#333" stroke-width="0.55" />
<line x1="625.70" y1="87.20" x2="628.90" y2="87.20" stroke="#333" stroke-width="0.55" />
<line x1="627.30" y1="109.20" x2="627.30" y2="112.30" stroke="#333" stroke-width="0.55" />
<line x1="625.70" y1="109.20" x2="628.90" y2="109.20" stroke="#333" stroke-width="0.55" />
<line x1="625.70" y1="112.30" x2="628.90" y2="112.30" stroke="#333" stroke-width="0.55" />
<line x1="627.30" y1="120.20" x2="627.30" y2="120.60" stroke="#333" stroke-width="0.55" />
<line x1="625.70" y1="120.20" x2="628.90" y2="120.20" stroke="#333" stroke-width="0.55" />
<line x1="625.70" y1="120.60" x2="628.90" y2="120.60" stroke="#333" stroke-width="0.55" />
<line x1="627.30" y1="127.20" x2="627.30" y2="131.10" stroke="#333" stroke-width="0.55" />
<line x1="625.70" y1="127.20" x2="628.90" y2="127.20" stroke="#333" stroke-width="0.55" />
<line x1="625.70" y1="131.10" x2="628.90" y2="131.10" stroke="#333" stroke-width="0.55" />
<line x1="627.30" y1="137.40" x2="627.30" y2="147.40" stroke="#333" stroke-width="0.55" />
<line x1="625.70" y1="137.40" x2="628.90" y2="137.40" stroke="#333" stroke-width="0.55" />
<line x1="625.70" y1="147.40" x2="628.90" y2="147.40" stroke="#333" stroke-width="0.55" />
<line x1="664.80" y1="57.30" x2="664.80" y2="59.50" stroke="#333" stroke-width="0.55" />
<line x1="663.20" y1="57.30" x2="666.40" y2="57.30" stroke="#333" stroke-width="0.55" />
<line x1="663.20" y1="59.50" x2="666.40" y2="59.50" stroke="#333" stroke-width="0.55" />
<line x1="664.80" y1="62.40" x2="664.80" y2="64.60" stroke="#333" stroke-width="0.55" />
<line x1="663.20" y1="62.40" x2="666.40" y2="62.40" stroke="#333" stroke-width="0.55" />
<line x1="663.20" y1="64.60" x2="666.40" y2="64.60" stroke="#333" stroke-width="0.55" />
<line x1="664.80" y1="77.00" x2="664.80" y2="78.50" stroke="#333" stroke-width="0.55" />
<line x1="663.20" y1="77.00" x2="666.40" y2="77.00" stroke="#333" stroke-width="0.55" />
<line x1="663.20" y1="78.50" x2="666.40" y2="78.50" stroke="#333" stroke-width="0.55" />
<line x1="664.80" y1="100.40" x2="664.80" y2="104.70" stroke="#333" stroke-width="0.55" />
<line x1="663.20" y1="100.40" x2="666.40" y2="100.40" stroke="#333" stroke-width="0.55" />
<line x1="663.20" y1="104.70" x2="666.40" y2="104.70" stroke="#333" stroke-width="0.55" />
<line x1="664.80" y1="104.10" x2="664.80" y2="115.30" stroke="#333" stroke-width="0.55" />
<line x1="663.20" y1="104.10" x2="666.40" y2="104.10" stroke="#333" stroke-width="0.55" />
<line x1="663.20" y1="115.30" x2="666.40" y2="115.30" stroke="#333" stroke-width="0.55" />
<line x1="664.80" y1="123.90" x2="664.80" y2="129.00" stroke="#333" stroke-width="0.55" />
<line x1="663.20" y1="123.90" x2="666.40" y2="123.90" stroke="#333" stroke-width="0.55" />
<line x1="663.20" y1="129.00" x2="666.40" y2="129.00" stroke="#333" stroke-width="0.55" />
<line x1="664.80" y1="136.40" x2="664.80" y2="144.60" stroke="#333" stroke-width="0.55" />
<line x1="663.20" y1="136.40" x2="666.40" y2="136.40" stroke="#333" stroke-width="0.55" />
<line x1="663.20" y1="144.60" x2="666.40" y2="144.60" stroke="#333" stroke-width="0.55" />
<rect x="496.30" y="29.50" width="187.20" height="150.85" fill="none" stroke="#333333" stroke-width="1.2"/>
<line x1="496.30" y1="180.35" x2="492.80" y2="180.35" stroke="#333333" stroke-width="1.0" />
<text x="491.30" y="183.35" font-size="9.5" text-anchor="end" fill="#111" stroke="#111" stroke-width="0.2" >0</text>
<line x1="496.30" y1="152.10" x2="492.80" y2="152.10" stroke="#333333" stroke-width="1.0" />
<text x="491.30" y="155.10" font-size="9.5" text-anchor="end" fill="#111" stroke="#111" stroke-width="0.2" >20</text>
<line x1="496.30" y1="123.85" x2="492.80" y2="123.85" stroke="#333333" stroke-width="1.0" />
<text x="491.30" y="126.85" font-size="9.5" text-anchor="end" fill="#111" stroke="#111" stroke-width="0.2" >40</text>
<line x1="496.30" y1="95.60" x2="492.80" y2="95.60" stroke="#333333" stroke-width="1.0" />
<text x="491.30" y="98.60" font-size="9.5" text-anchor="end" fill="#111" stroke="#111" stroke-width="0.2" >60</text>
<line x1="496.30" y1="67.35" x2="492.80" y2="67.35" stroke="#333333" stroke-width="1.0" />
<text x="491.30" y="70.35" font-size="9.5" text-anchor="end" fill="#111" stroke="#111" stroke-width="0.2" >80</text>
<line x1="496.30" y1="39.10" x2="492.80" y2="39.10" stroke="#333333" stroke-width="1.0" />
<text x="491.30" y="42.10" font-size="9.5" text-anchor="end" fill="#111" stroke="#111" stroke-width="0.2" >100</text>
<line x1="496.30" y1="166.22" x2="494.10" y2="166.22" stroke="#333333" stroke-width="1.0" />
<line x1="496.30" y1="137.97" x2="494.10" y2="137.97" stroke="#333333" stroke-width="1.0" />
<line x1="496.30" y1="109.72" x2="494.10" y2="109.72" stroke="#333333" stroke-width="1.0" />
<line x1="496.30" y1="81.47" x2="494.10" y2="81.47" stroke="#333333" stroke-width="1.0" />
<line x1="496.30" y1="53.22" x2="494.10" y2="53.22" stroke="#333333" stroke-width="1.0" />
<line x1="514.80" y1="180.35" x2="514.80" y2="183.65" stroke="#333333" stroke-width="1.0" />
<text x="514.80" y="192.95" font-size="9.5" text-anchor="middle" fill="#111" stroke="#111" stroke-width="0.2" >-100</text>
<line x1="552.30" y1="180.35" x2="552.30" y2="183.65" stroke="#333333" stroke-width="1.0" />
<text x="552.30" y="192.95" font-size="9.5" text-anchor="middle" fill="#111" stroke="#111" stroke-width="0.2" >-200</text>
<line x1="589.80" y1="180.35" x2="589.80" y2="183.65" stroke="#333333" stroke-width="1.0" />
<text x="589.80" y="192.95" font-size="9.5" text-anchor="middle" fill="#111" stroke="#111" stroke-width="0.2" >-300</text>
<line x1="627.30" y1="180.35" x2="627.30" y2="183.65" stroke="#333333" stroke-width="1.0" />
<text x="627.30" y="192.95" font-size="9.5" text-anchor="middle" fill="#111" stroke="#111" stroke-width="0.2" >-400</text>
<line x1="664.80" y1="180.35" x2="664.80" y2="183.65" stroke="#333333" stroke-width="1.0" />
<text x="664.80" y="192.95" font-size="9.5" text-anchor="middle" fill="#111" stroke="#111" stroke-width="0.2" >-500</text>
<text x="589.90" y="208.85" font-size="9.3" text-anchor="middle" fill="#111" stroke="#111" stroke-width="0.2" >Current density (mA cm<tspan font-size="6.5" dy="-3.5">-2</tspan><tspan dy="3.5">)</tspan></text>
<text x="472.30" y="104.00" font-size="9.5" text-anchor="middle" fill="#111" stroke="#111" stroke-width="0.2" transform="rotate(-90 472.30 104.00)">FE (%)</text>
<text x="499.40" y="41.80" font-size="9.35" text-anchor="start" fill="#111" stroke="#111" stroke-width="0.2" >2-Pyridinemethanethiol-CuO<tspan font-size="5.7" dy="2.9">x</tspan></text>
<text x="457.60" y="33.10" font-size="13.4" text-anchor="start" fill="#111" stroke="#111" stroke-width="0.2" >c</text>
<rect x="55.90" y="363.10" width="13.10" height="33.30" fill="#c8c8c8"/>
<rect x="69.00" y="330.00" width="13.10" height="66.40" fill="#f4636e"/>
<rect x="107.70" y="354.20" width="13.10" height="42.20" fill="#c8c8c8"/>
<rect x="120.80" y="326.90" width="13.10" height="69.50" fill="#f4636e"/>
<rect x="159.50" y="348.70" width="13.10" height="47.70" fill="#c8c8c8"/>
<rect x="172.60" y="319.20" width="13.10" height="77.20" fill="#f4636e"/>
<rect x="211.30" y="342.50" width="13.10" height="53.90" fill="#c8c8c8"/>
<rect x="224.40" y="287.60" width="13.10" height="108.80" fill="#f4636e"/>
<rect x="263.10" y="332.20" width="13.10" height="64.20" fill="#c8c8c8"/>
<rect x="276.20" y="291.60" width="13.10" height="104.80" fill="#f4636e"/>
<line x1="62.45" y1="357.40" x2="62.45" y2="368.40" stroke="#333" stroke-width="0.55" />
<line x1="60.85" y1="357.40" x2="64.05" y2="357.40" stroke="#333" stroke-width="0.55" />
<line x1="60.85" y1="368.40" x2="64.05" y2="368.40" stroke="#333" stroke-width="0.55" />
<line x1="75.55" y1="319.50" x2="75.55" y2="340.60" stroke="#333" stroke-width="0.55" />
<line x1="73.95" y1="319.50" x2="77.15" y2="319.50" stroke="#333" stroke-width="0.55" />
<line x1="73.95" y1="340.60" x2="77.15" y2="340.60" stroke="#333" stroke-width="0.55" />
<line x1="114.25" y1="349.20" x2="114.25" y2="359.50" stroke="#333" stroke-width="0.55" />
<line x1="112.65" y1="349.20" x2="115.85" y2="349.20" stroke="#333" stroke-width="0.55" />
<line x1="112.65" y1="359.50" x2="115.85" y2="359.50" stroke="#333" stroke-width="0.55" />
<line x1="127.35" y1="320.10" x2="127.35" y2="333.20" stroke="#333" stroke-width="0.55" />
<line x1="125.75" y1="320.10" x2="128.95" y2="320.10" stroke="#333" stroke-width="0.55" />
<line x1="125.75" y1="333.20" x2="128.95" y2="333.20" stroke="#333" stroke-width="0.55" />
<line x1="166.05" y1="344.10" x2="166.05" y2="353.60" stroke="#333" stroke-width="0.55" />
<line x1="164.45" y1="344.10" x2="167.65" y2="344.10" stroke="#333" stroke-width="0.55" />
<line x1="164.45" y1="353.60" x2="167.65" y2="353.60" stroke="#333" stroke-width="0.55" />
<line x1="179.15" y1="313.10" x2="179.15" y2="325.50" stroke="#333" stroke-width="0.55" />
<line x1="177.55" y1="313.10" x2="180.75" y2="313.10" stroke="#333" stroke-width="0.55" />
<line x1="177.55" y1="325.50" x2="180.75" y2="325.50" stroke="#333" stroke-width="0.55" />
<line x1="217.85" y1="340.10" x2="217.85" y2="345.30" stroke="#333" stroke-width="0.55" />
<line x1="216.25" y1="340.10" x2="219.45" y2="340.10" stroke="#333" stroke-width="0.55" />
<line x1="216.25" y1="345.30" x2="219.45" y2="345.30" stroke="#333" stroke-width="0.55" />
<line x1="230.95" y1="279.60" x2="230.95" y2="295.60" stroke="#333" stroke-width="0.55" />
<line x1="229.35" y1="279.60" x2="232.55" y2="279.60" stroke="#333" stroke-width="0.55" />
<line x1="229.35" y1="295.60" x2="232.55" y2="295.60" stroke="#333" stroke-width="0.55" />
<line x1="269.65" y1="329.40" x2="269.65" y2="334.20" stroke="#333" stroke-width="0.55" />
<line x1="268.05" y1="329.40" x2="271.25" y2="329.40" stroke="#333" stroke-width="0.55" />
<line x1="268.05" y1="334.20" x2="271.25" y2="334.20" stroke="#333" stroke-width="0.55" />
<line x1="282.75" y1="279.70" x2="282.75" y2="303.60" stroke="#333" stroke-width="0.55" />
<line x1="281.15" y1="279.70" x2="284.35" y2="279.70" stroke="#333" stroke-width="0.55" />
<line x1="281.15" y1="303.60" x2="284.35" y2="303.60" stroke="#333" stroke-width="0.55" />
<line x1="224.40" y1="240.30" x2="224.40" y2="269.70" stroke="#333" stroke-width="0.55" />
<line x1="222.80" y1="240.30" x2="226.00" y2="240.30" stroke="#333" stroke-width="0.55" />
<line x1="222.80" y1="269.70" x2="226.00" y2="269.70" stroke="#333" stroke-width="0.55" />
<line x1="276.20" y1="250.70" x2="276.20" y2="274.50" stroke="#333" stroke-width="0.55" />
<line x1="274.60" y1="250.70" x2="277.80" y2="250.70" stroke="#333" stroke-width="0.55" />
<line x1="274.60" y1="274.50" x2="277.80" y2="274.50" stroke="#333" stroke-width="0.55" />
<line x1="224.40" y1="304.90" x2="224.40" y2="310.70" stroke="#333" stroke-width="0.55" />
<line x1="222.80" y1="304.90" x2="226.00" y2="304.90" stroke="#333" stroke-width="0.55" />
<line x1="222.80" y1="310.70" x2="226.00" y2="310.70" stroke="#333" stroke-width="0.55" />
<line x1="276.20" y1="271.70" x2="276.20" y2="284.50" stroke="#333" stroke-width="0.55" />
<line x1="274.60" y1="271.70" x2="277.80" y2="271.70" stroke="#333" stroke-width="0.55" />
<line x1="274.60" y1="284.50" x2="277.80" y2="284.50" stroke="#333" stroke-width="0.55" />
<polyline points="69.0,376.6 120.8,359.7 172.6,336.4 224.4,307.8 276.2,278.1" fill="none" stroke="#b034f3" stroke-width="0.95" stroke-dasharray="4.5,3.2"/>
<polyline points="69.0,364.6 120.8,337.6 172.6,305.7 224.4,254.9 276.2,262.8" fill="none" stroke="#b034f3" stroke-width="0.95"/>
<rect x="66.90" y="374.50" width="4.2" height="4.2" fill="#b034f3" stroke="#9a22dc" stroke-width="0.4"/>
<rect x="118.70" y="357.60" width="4.2" height="4.2" fill="#b034f3" stroke="#9a22dc" stroke-width="0.4"/>
<rect x="170.50" y="334.30" width="4.2" height="4.2" fill="#b034f3" stroke="#9a22dc" stroke-width="0.4"/>
<rect x="222.30" y="305.70" width="4.2" height="4.2" fill="#b034f3" stroke="#9a22dc" stroke-width="0.4"/>
<rect x="274.10" y="276.00" width="4.2" height="4.2" fill="#b034f3" stroke="#9a22dc" stroke-width="0.4"/>
<circle cx="69.0" cy="364.6" r="2.2" fill="#b034f3" stroke="#9a22dc" stroke-width="0.4"/>
<circle cx="120.8" cy="337.6" r="2.2" fill="#b034f3" stroke="#9a22dc" stroke-width="0.4"/>
<circle cx="172.6" cy="305.7" r="2.2" fill="#b034f3" stroke="#9a22dc" stroke-width="0.4"/>
<circle cx="224.4" cy="254.9" r="2.2" fill="#b034f3" stroke="#9a22dc" stroke-width="0.4"/>
<circle cx="276.2" cy="262.8" r="2.2" fill="#b034f3" stroke="#9a22dc" stroke-width="0.4"/>
<line x1="42.90" y1="227.80" x2="302.00" y2="227.80" stroke="#333333" stroke-width="1.2" />
<line x1="42.90" y1="227.80" x2="42.90" y2="396.40" stroke="#333333" stroke-width="1.2" />
<line x1="42.90" y1="396.40" x2="302.00" y2="396.40" stroke="#333333" stroke-width="1.2" />
<line x1="302.00" y1="227.20" x2="302.00" y2="397.00" stroke="#b034f3" stroke-width="1.4" />
<line x1="42.90" y1="396.40" x2="38.90" y2="396.40" stroke="#333333" stroke-width="1.0" />
<text x="0" y="0" transform="translate(37.30 399.15) scale(0.91 1)" font-size="9.5" text-anchor="end" fill="#111" stroke="#111" stroke-width="0.2" >0.0</text>
<line x1="42.90" y1="372.32" x2="38.90" y2="372.32" stroke="#333333" stroke-width="1.0" />
<text x="0" y="0" transform="translate(37.30 375.07) scale(0.91 1)" font-size="9.5" text-anchor="end" fill="#111" stroke="#111" stroke-width="0.2" >0.2</text>
<line x1="42.90" y1="348.24" x2="38.90" y2="348.24" stroke="#333333" stroke-width="1.0" />
<text x="0" y="0" transform="translate(37.30 350.99) scale(0.91 1)" font-size="9.5" text-anchor="end" fill="#111" stroke="#111" stroke-width="0.2" >0.4</text>
<line x1="42.90" y1="324.16" x2="38.90" y2="324.16" stroke="#333333" stroke-width="1.0" />
<text x="0" y="0" transform="translate(37.30 326.91) scale(0.91 1)" font-size="9.5" text-anchor="end" fill="#111" stroke="#111" stroke-width="0.2" >0.6</text>
<line x1="42.90" y1="300.08" x2="38.90" y2="300.08" stroke="#333333" stroke-width="1.0" />
<text x="0" y="0" transform="translate(37.30 302.83) scale(0.91 1)" font-size="9.5" text-anchor="end" fill="#111" stroke="#111" stroke-width="0.2" >0.8</text>
<line x1="42.90" y1="276.00" x2="38.90" y2="276.00" stroke="#333333" stroke-width="1.0" />
<text x="0" y="0" transform="translate(37.30 278.75) scale(0.91 1)" font-size="9.5" text-anchor="end" fill="#111" stroke="#111" stroke-width="0.2" >1.0</text>
<line x1="42.90" y1="251.92" x2="38.90" y2="251.92" stroke="#333333" stroke-width="1.0" />
<text x="0" y="0" transform="translate(37.30 254.67) scale(0.91 1)" font-size="9.5" text-anchor="end" fill="#111" stroke="#111" stroke-width="0.2" >1.2</text>
<line x1="42.90" y1="227.84" x2="38.90" y2="227.84" stroke="#333333" stroke-width="1.0" />
<text x="0" y="0" transform="translate(37.30 230.59) scale(0.91 1)" font-size="9.5" text-anchor="end" fill="#111" stroke="#111" stroke-width="0.2" >1.4</text>
<line x1="42.90" y1="384.36" x2="40.70" y2="384.36" stroke="#333333" stroke-width="1.0" />
<line x1="42.90" y1="360.28" x2="40.70" y2="360.28" stroke="#333333" stroke-width="1.0" />
<line x1="42.90" y1="336.20" x2="40.70" y2="336.20" stroke="#333333" stroke-width="1.0" />
<line x1="42.90" y1="312.12" x2="40.70" y2="312.12" stroke="#333333" stroke-width="1.0" />
<line x1="42.90" y1="288.04" x2="40.70" y2="288.04" stroke="#333333" stroke-width="1.0" />
<line x1="42.90" y1="263.96" x2="40.70" y2="263.96" stroke="#333333" stroke-width="1.0" />
<line x1="42.90" y1="239.88" x2="40.70" y2="239.88" stroke="#333333" stroke-width="1.0" />
<line x1="302.00" y1="384.60" x2="306.00" y2="384.60" stroke="#b034f3" stroke-width="1.1" />
<text x="307.70" y="388.00" font-size="9.3" text-anchor="start" fill="#b034f3" stroke="#b034f3" stroke-width="0.2" stroke-opacity="0">0</text>
<line x1="302.00" y1="362.21" x2="306.00" y2="362.21" stroke="#b034f3" stroke-width="1.1" />
<text x="307.70" y="365.61" font-size="9.3" text-anchor="start" fill="#b034f3" stroke="#b034f3" stroke-width="0.2" stroke-opacity="0">-20</text>
<line x1="302.00" y1="339.82" x2="306.00" y2="339.82" stroke="#b034f3" stroke-width="1.1" />
<text x="307.70" y="343.22" font-size="9.3" text-anchor="start" fill="#b034f3" stroke="#b034f3" stroke-width="0.2" stroke-opacity="0">-40</text>
<line x1="302.00" y1="317.42" x2="306.00" y2="317.42" stroke="#b034f3" stroke-width="1.1" />
<text x="307.70" y="320.82" font-size="9.3" text-anchor="start" fill="#b034f3" stroke="#b034f3" stroke-width="0.2" stroke-opacity="0">-60</text>
<line x1="302.00" y1="295.03" x2="306.00" y2="295.03" stroke="#b034f3" stroke-width="1.1" />
<text x="307.70" y="298.43" font-size="9.3" text-anchor="start" fill="#b034f3" stroke="#b034f3" stroke-width="0.2" stroke-opacity="0">-80</text>
<line x1="302.00" y1="272.64" x2="306.00" y2="272.64" stroke="#b034f3" stroke-width="1.1" />
<text x="307.70" y="276.04" font-size="9.3" text-anchor="start" fill="#b034f3" stroke="#b034f3" stroke-width="0.2" stroke-opacity="0">-100</text>
<line x1="302.00" y1="250.25" x2="306.00" y2="250.25" stroke="#b034f3" stroke-width="1.1" />
<text x="307.70" y="253.65" font-size="9.3" text-anchor="start" fill="#b034f3" stroke="#b034f3" stroke-width="0.2" stroke-opacity="0">-120</text>
<line x1="302.00" y1="227.86" x2="306.00" y2="227.86" stroke="#b034f3" stroke-width="1.1" />
<text x="307.70" y="231.26" font-size="9.3" text-anchor="start" fill="#b034f3" stroke="#b034f3" stroke-width="0.2" stroke-opacity="0">-140</text>
<line x1="302.00" y1="395.80" x2="304.30" y2="395.80" stroke="#b034f3" stroke-width="1.1" />
<line x1="302.00" y1="373.40" x2="304.30" y2="373.40" stroke="#b034f3" stroke-width="1.1" />
<line x1="302.00" y1="351.01" x2="304.30" y2="351.01" stroke="#b034f3" stroke-width="1.1" />
<line x1="302.00" y1="328.62" x2="304.30" y2="328.62" stroke="#b034f3" stroke-width="1.1" />
<line x1="302.00" y1="306.23" x2="304.30" y2="306.23" stroke="#b034f3" stroke-width="1.1" />
<line x1="302.00" y1="283.84" x2="304.30" y2="283.84" stroke="#b034f3" stroke-width="1.1" />
<line x1="302.00" y1="261.44" x2="304.30" y2="261.44" stroke="#b034f3" stroke-width="1.1" />
<line x1="302.00" y1="239.05" x2="304.30" y2="239.05" stroke="#b034f3" stroke-width="1.1" />
<line x1="69.00" y1="396.40" x2="69.00" y2="400.00" stroke="#333333" stroke-width="1.0" />
<text x="69.00" y="409.00" font-size="9.0" text-anchor="middle" fill="#111" stroke="#111" stroke-width="0.2" >-100</text>
<line x1="120.80" y1="396.40" x2="120.80" y2="400.00" stroke="#333333" stroke-width="1.0" />
<text x="120.80" y="409.00" font-size="9.0" text-anchor="middle" fill="#111" stroke="#111" stroke-width="0.2" >-200</text>
<line x1="172.60" y1="396.40" x2="172.60" y2="400.00" stroke="#333333" stroke-width="1.0" />
<text x="172.60" y="409.00" font-size="9.0" text-anchor="middle" fill="#111" stroke="#111" stroke-width="0.2" >-300</text>
<line x1="224.40" y1="396.40" x2="224.40" y2="400.00" stroke="#333333" stroke-width="1.0" />
<text x="224.40" y="409.00" font-size="9.0" text-anchor="middle" fill="#111" stroke="#111" stroke-width="0.2" >-400</text>
<line x1="276.20" y1="396.40" x2="276.20" y2="400.00" stroke="#333333" stroke-width="1.0" />
<text x="276.20" y="409.00" font-size="9.0" text-anchor="middle" fill="#111" stroke="#111" stroke-width="0.2" >-500</text>
<text x="172.20" y="424.40" font-size="8.95" text-anchor="middle" fill="#111" stroke="#111" stroke-width="0.2" >Current density (mA cm<tspan font-size="6.2" dy="-3.5">-2</tspan><tspan dy="3.5">)</tspan></text>
<text x="0" y="0" font-size="9.2" fill="#111" stroke="#111" stroke-width="0.2" text-anchor="middle" transform="translate(19.3 311.6) rotate(-90)">FE<tspan font-size="5.8" dy="3">EtOH</tspan><tspan dy="-3">/FE</tspan><tspan font-size="5.1" dy="3">C2H4</tspan></text>
<text x="0" y="0" font-size="8.8" fill="#b034f3" text-anchor="middle" transform="translate(335.6 313.2) rotate(-90)"><tspan font-style="italic">j</tspan><tspan font-size="6.2" dy="2.5">EtOH</tspan><tspan dy="-2.5"> (mA cm</tspan><tspan font-size="6.2" dy="-3.5">-2</tspan><tspan dy="3.5">)</tspan></text>
<rect x="49.90" y="232.90" width="19.10" height="8.50" fill="#c8c8c8"/>
<text x="72.00" y="240.30" font-size="8.95" text-anchor="start" fill="#111" stroke="#111" stroke-width="0.2" >CuO<tspan font-size="5.0" dy="2.8">x</tspan></text>
<rect x="49.90" y="246.20" width="19.10" height="8.50" fill="#f4636e"/>
<text x="72.00" y="253.40" font-size="8.95" text-anchor="start" fill="#111" stroke="#111" stroke-width="0.2" >1,8-Octanedithiol-CuO<tspan font-size="5.0" dy="2.8">x</tspan></text>
<line x1="49.90" y1="261.70" x2="54.40" y2="261.70" stroke="#b034f3" stroke-width="1.1" />
<line x1="65.60" y1="261.70" x2="70.00" y2="261.70" stroke="#b034f3" stroke-width="1.1" />
<rect x="57.70" y="259.50" width="4.40" height="4.40" fill="#b034f3"/>
<text x="72.00" y="265.20" font-size="8.95" text-anchor="start" fill="#111" stroke="#111" stroke-width="0.2" >CuO<tspan font-size="5.0" dy="2.8">x</tspan></text>
<line x1="49.90" y1="275.40" x2="70.00" y2="275.40" stroke="#b034f3" stroke-width="1.1" />
<circle cx="60" cy="275.4" r="2.3" fill="#b034f3"/>
<text x="72.00" y="278.20" font-size="8.95" text-anchor="start" fill="#111" stroke="#111" stroke-width="0.2" >1,8-Octanedithiol-CuO<tspan font-size="5.0" dy="2.8">x</tspan></text>
<text x="0.50" y="232.20" font-size="13.4" text-anchor="start" fill="#111" stroke="#111" stroke-width="0.2" >d</text>
<rect x="424.05" y="330.40" width="10.60" height="65.90" fill="#c8c8c8"/>
<rect x="434.65" y="393.00" width="10.60" height="3.30" fill="#8c9ef7"/>
<rect x="445.25" y="303.90" width="10.60" height="92.40" fill="#f4636e"/>
<rect x="478.05" y="312.90" width="10.60" height="83.40" fill="#c8c8c8"/>
<rect x="488.65" y="372.90" width="10.60" height="23.40" fill="#8c9ef7"/>
<rect x="499.25" y="291.30" width="10.60" height="105.00" fill="#f4636e"/>
<rect x="532.05" y="302.50" width="10.60" height="93.80" fill="#c8c8c8"/>
<rect x="542.65" y="350.30" width="10.60" height="46.00" fill="#8c9ef7"/>
<rect x="553.25" y="287.60" width="10.60" height="108.70" fill="#f4636e"/>
<rect x="586.05" y="293.50" width="10.60" height="102.80" fill="#c8c8c8"/>
<rect x="596.65" y="336.20" width="10.60" height="60.10" fill="#8c9ef7"/>
<rect x="607.25" y="285.60" width="10.60" height="110.70" fill="#f4636e"/>
<rect x="640.05" y="299.10" width="10.60" height="97.20" fill="#c8c8c8"/>
<rect x="650.65" y="343.20" width="10.60" height="53.10" fill="#8c9ef7"/>
<rect x="661.25" y="312.00" width="10.60" height="84.30" fill="#f4636e"/>
<line x1="429.35" y1="324.00" x2="429.35" y2="336.90" stroke="#333" stroke-width="0.55" />
<line x1="427.75" y1="324.00" x2="430.95" y2="324.00" stroke="#333" stroke-width="0.55" />
<line x1="427.75" y1="336.90" x2="430.95" y2="336.90" stroke="#333" stroke-width="0.55" />
<line x1="439.95" y1="391.20" x2="439.95" y2="395.60" stroke="#333" stroke-width="0.55" />
<line x1="438.35" y1="391.20" x2="441.55" y2="391.20" stroke="#333" stroke-width="0.55" />
<line x1="438.35" y1="395.60" x2="441.55" y2="395.60" stroke="#333" stroke-width="0.55" />
<line x1="450.55" y1="300.30" x2="450.55" y2="308.00" stroke="#333" stroke-width="0.55" />
<line x1="448.95" y1="300.30" x2="452.15" y2="300.30" stroke="#333" stroke-width="0.55" />
<line x1="448.95" y1="308.00" x2="452.15" y2="308.00" stroke="#333" stroke-width="0.55" />
<line x1="483.35" y1="310.10" x2="483.35" y2="315.80" stroke="#333" stroke-width="0.55" />
<line x1="481.75" y1="310.10" x2="484.95" y2="310.10" stroke="#333" stroke-width="0.55" />
<line x1="481.75" y1="315.80" x2="484.95" y2="315.80" stroke="#333" stroke-width="0.55" />
<line x1="493.95" y1="361.40" x2="493.95" y2="384.80" stroke="#333" stroke-width="0.55" />
<line x1="492.35" y1="361.40" x2="495.55" y2="361.40" stroke="#333" stroke-width="0.55" />
<line x1="492.35" y1="384.80" x2="495.55" y2="384.80" stroke="#333" stroke-width="0.55" />
<line x1="504.55" y1="284.30" x2="504.55" y2="298.30" stroke="#333" stroke-width="0.55" />
<line x1="502.95" y1="284.30" x2="506.15" y2="284.30" stroke="#333" stroke-width="0.55" />
<line x1="502.95" y1="298.30" x2="506.15" y2="298.30" stroke="#333" stroke-width="0.55" />
<line x1="537.35" y1="294.90" x2="537.35" y2="309.80" stroke="#333" stroke-width="0.55" />
<line x1="535.75" y1="294.90" x2="538.95" y2="294.90" stroke="#333" stroke-width="0.55" />
<line x1="535.75" y1="309.80" x2="538.95" y2="309.80" stroke="#333" stroke-width="0.55" />
<line x1="547.95" y1="341.30" x2="547.95" y2="359.50" stroke="#333" stroke-width="0.55" />
<line x1="546.35" y1="341.30" x2="549.55" y2="341.30" stroke="#333" stroke-width="0.55" />
<line x1="546.35" y1="359.50" x2="549.55" y2="359.50" stroke="#333" stroke-width="0.55" />
<line x1="558.55" y1="282.20" x2="558.55" y2="292.60" stroke="#333" stroke-width="0.55" />
<line x1="556.95" y1="282.20" x2="560.15" y2="282.20" stroke="#333" stroke-width="0.55" />
<line x1="556.95" y1="292.60" x2="560.15" y2="292.60" stroke="#333" stroke-width="0.55" />
<line x1="591.35" y1="292.90" x2="591.35" y2="294.10" stroke="#333" stroke-width="0.55" />
<line x1="589.75" y1="292.90" x2="592.95" y2="292.90" stroke="#333" stroke-width="0.55" />
<line x1="589.75" y1="294.10" x2="592.95" y2="294.10" stroke="#333" stroke-width="0.55" />
<line x1="601.95" y1="321.60" x2="601.95" y2="350.30" stroke="#333" stroke-width="0.55" />
<line x1="600.35" y1="321.60" x2="603.55" y2="321.60" stroke="#333" stroke-width="0.55" />
<line x1="600.35" y1="350.30" x2="603.55" y2="350.30" stroke="#333" stroke-width="0.55" />
<line x1="612.55" y1="280.80" x2="612.55" y2="291.20" stroke="#333" stroke-width="0.55" />
<line x1="610.95" y1="280.80" x2="614.15" y2="280.80" stroke="#333" stroke-width="0.55" />
<line x1="610.95" y1="291.20" x2="614.15" y2="291.20" stroke="#333" stroke-width="0.55" />
<line x1="645.35" y1="296.30" x2="645.35" y2="301.40" stroke="#333" stroke-width="0.55" />
<line x1="643.75" y1="296.30" x2="646.95" y2="296.30" stroke="#333" stroke-width="0.55" />
<line x1="643.75" y1="301.40" x2="646.95" y2="301.40" stroke="#333" stroke-width="0.55" />
<line x1="655.95" y1="340.10" x2="655.95" y2="346.30" stroke="#333" stroke-width="0.55" />
<line x1="654.35" y1="340.10" x2="657.55" y2="340.10" stroke="#333" stroke-width="0.55" />
<line x1="654.35" y1="346.30" x2="657.55" y2="346.30" stroke="#333" stroke-width="0.55" />
<line x1="666.55" y1="304.50" x2="666.55" y2="319.30" stroke="#333" stroke-width="0.55" />
<line x1="664.95" y1="304.50" x2="668.15" y2="304.50" stroke="#333" stroke-width="0.55" />
<line x1="664.95" y1="319.30" x2="668.15" y2="319.30" stroke="#333" stroke-width="0.55" />
<rect x="412.90" y="227.30" width="269.60" height="169.00" fill="none" stroke="#333333" stroke-width="1.2"/>
<line x1="412.90" y1="396.20" x2="408.90" y2="396.20" stroke="#333333" stroke-width="1.0" />
<text x="406.90" y="398.80" font-size="9.0" text-anchor="end" fill="#111" stroke="#111" stroke-width="0.2" >0</text>
<line x1="412.90" y1="362.40" x2="408.90" y2="362.40" stroke="#333333" stroke-width="1.0" />
<text x="406.90" y="365.00" font-size="9.0" text-anchor="end" fill="#111" stroke="#111" stroke-width="0.2" >20</text>
<line x1="412.90" y1="328.60" x2="408.90" y2="328.60" stroke="#333333" stroke-width="1.0" />
<text x="406.90" y="331.20" font-size="9.0" text-anchor="end" fill="#111" stroke="#111" stroke-width="0.2" >40</text>
<line x1="412.90" y1="294.80" x2="408.90" y2="294.80" stroke="#333333" stroke-width="1.0" />
<text x="406.90" y="297.40" font-size="9.0" text-anchor="end" fill="#111" stroke="#111" stroke-width="0.2" >60</text>
<line x1="412.90" y1="261.00" x2="408.90" y2="261.00" stroke="#333333" stroke-width="1.0" />
<text x="406.90" y="263.60" font-size="9.0" text-anchor="end" fill="#111" stroke="#111" stroke-width="0.2" >80</text>
<line x1="412.90" y1="227.20" x2="408.90" y2="227.20" stroke="#333333" stroke-width="1.0" />
<text x="406.90" y="229.80" font-size="9.0" text-anchor="end" fill="#111" stroke="#111" stroke-width="0.2" >100</text>
<line x1="412.90" y1="379.30" x2="410.70" y2="379.30" stroke="#333333" stroke-width="1.0" />
<line x1="412.90" y1="345.50" x2="410.70" y2="345.50" stroke="#333333" stroke-width="1.0" />
<line x1="412.90" y1="311.70" x2="410.70" y2="311.70" stroke="#333333" stroke-width="1.0" />
<line x1="412.90" y1="277.90" x2="410.70" y2="277.90" stroke="#333333" stroke-width="1.0" />
<line x1="412.90" y1="244.10" x2="410.70" y2="244.10" stroke="#333333" stroke-width="1.0" />
<line x1="439.95" y1="396.30" x2="439.95" y2="399.90" stroke="#333333" stroke-width="1.0" />
<text x="439.95" y="409.10" font-size="9.0" text-anchor="middle" fill="#111" stroke="#111" stroke-width="0.2" >-100</text>
<line x1="493.95" y1="396.30" x2="493.95" y2="399.90" stroke="#333333" stroke-width="1.0" />
<text x="493.95" y="409.10" font-size="9.0" text-anchor="middle" fill="#111" stroke="#111" stroke-width="0.2" >-200</text>
<line x1="547.95" y1="396.30" x2="547.95" y2="399.90" stroke="#333333" stroke-width="1.0" />
<text x="547.95" y="409.10" font-size="9.0" text-anchor="middle" fill="#111" stroke="#111" stroke-width="0.2" >-300</text>
<line x1="601.95" y1="396.30" x2="601.95" y2="399.90" stroke="#333333" stroke-width="1.0" />
<text x="601.95" y="409.10" font-size="9.0" text-anchor="middle" fill="#111" stroke="#111" stroke-width="0.2" >-400</text>
<line x1="655.95" y1="396.30" x2="655.95" y2="399.90" stroke="#333333" stroke-width="1.0" />
<text x="655.95" y="409.10" font-size="9.0" text-anchor="middle" fill="#111" stroke="#111" stroke-width="0.2" >-500</text>
<text x="547.70" y="424.10" font-size="8.95" text-anchor="middle" fill="#111" stroke="#111" stroke-width="0.2" >Current density (mA cm<tspan font-size="6.2" dy="-3.5">-2</tspan><tspan dy="3.5">)</tspan></text>
<text x="0" y="0" font-size="9.0" fill="#111" stroke="#111" stroke-width="0.2" text-anchor="middle" transform="translate(386.9 311.4) rotate(-90)">FE<tspan font-size="5.3" dy="2.6">C2+</tspan><tspan dy="-2.6"> (%)</tspan></text>
<rect x="418.10" y="231.60" width="19.70" height="9.20" fill="#c8c8c8"/>
<text x="440.00" y="239.20" font-size="8.95" text-anchor="start" fill="#111" stroke="#111" stroke-width="0.2" >CuO<tspan font-size="5.0" dy="2.8">x</tspan></text>
<rect x="418.10" y="244.70" width="19.70" height="9.20" fill="#8c9ef7"/>
<text x="440.00" y="252.80" font-size="8.95" text-anchor="start" fill="#111" stroke="#111" stroke-width="0.2" >2-Pyridinemethanethiol-CuO<tspan font-size="5.0" dy="2.8">x</tspan></text>
<rect x="418.10" y="257.80" width="19.70" height="9.20" fill="#f4636e"/>
<text x="440.00" y="266.20" font-size="8.85" text-anchor="start" fill="#111" stroke="#111" stroke-width="0.2" >1,8-Octanedithiol-CuO<tspan font-size="5.0" dy="2.8">x</tspan></text>
<text x="365.20" y="232.60" font-size="13.4" text-anchor="start" fill="#111" stroke="#111" stroke-width="0.2" >e</text>
<rect x="21.82" y="44" width="1.18" height="3" fill="#fff"/>
<rect x="25" y="44" width="1.76" height="3" fill="#fff"/>
<rect x="54.72" y="191" width="1.28" height="2" fill="#fff"/>
<rect x="58" y="191" width="1.67" height="2" fill="#fff"/>
<rect x="246.82" y="38" width="1.18" height="3" fill="#fff"/>
<rect x="250" y="38" width="1.76" height="3" fill="#fff"/>
<rect x="279.52" y="190" width="1.48" height="3" fill="#fff"/>
<rect x="283" y="190" width="1.47" height="3" fill="#fff"/>
<rect x="271.17" y="40" width="1.83" height="3" fill="#fff"/>
<rect x="275" y="40" width="1.08" height="3" fill="#fff"/>
<rect x="475.62" y="41" width="1.38" height="2" fill="#fff"/>
<rect x="479" y="41" width="1.56" height="2" fill="#fff"/>
<rect x="508.62" y="191" width="1.38" height="3" fill="#fff"/>
<rect x="512" y="191" width="1.57" height="3" fill="#fff"/>
<rect x="25.40" y="277" width="1.60" height="3" fill="#fff"/>
<rect x="29" y="277" width="0.96" height="3" fill="#fff"/>
<rect x="25.40" y="253" width="1.60" height="3" fill="#fff"/>
<rect x="29" y="253" width="0.96" height="3" fill="#fff"/>
<rect x="25.40" y="229" width="1.60" height="2" fill="#fff"/>
<rect x="29" y="229" width="0.96" height="2" fill="#fff"/>
<rect x="310.96" y="275" width="2.04" height="2" fill="#fff"/>
<rect x="315" y="275" width="0.81" height="2" fill="#fff"/>
<rect x="310.96" y="252" width="2.04" height="3" fill="#fff"/>
<rect x="315" y="252" width="0.81" height="3" fill="#fff"/>
<rect x="310.96" y="230" width="2.04" height="2" fill="#fff"/>
<rect x="315" y="230" width="0.81" height="2" fill="#fff"/>
<rect x="63.13" y="408" width="1.87" height="2" fill="#fff"/>
<rect x="67" y="408" width="0.84" height="2" fill="#fff"/>
<rect x="72.15" y="252" width="1.85" height="2" fill="#fff"/>
<rect x="76" y="252" width="0.84" height="2" fill="#fff"/>
<rect x="72.15" y="277" width="1.85" height="2" fill="#fff"/>
<rect x="76" y="277" width="0.84" height="2" fill="#fff"/>
<rect x="392.02" y="228" width="1.98" height="3" fill="#fff"/>
<rect x="396" y="228" width="0.73" height="3" fill="#fff"/>
<rect x="434.08" y="408" width="1.92" height="2" fill="#fff"/>
<rect x="438" y="408" width="0.79" height="2" fill="#fff"/>
<rect x="440.14" y="265" width="1.86" height="2" fill="#fff"/>
<rect x="444" y="265" width="0.79" height="2" fill="#fff"/>
</svg></body></html>
